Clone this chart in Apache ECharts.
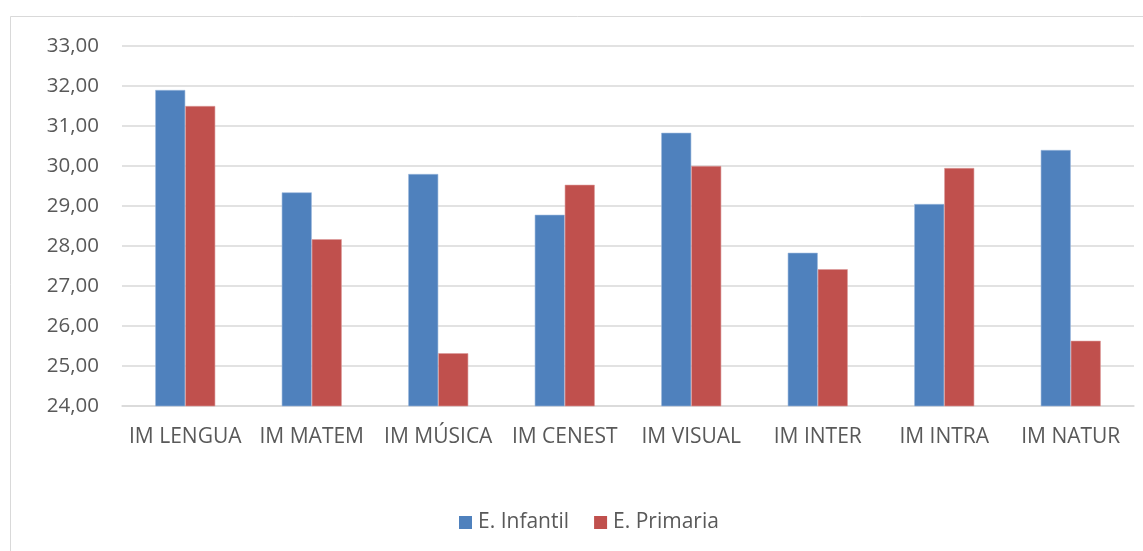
<!DOCTYPE html>
<html>
<head>
<meta charset="utf-8">
<script src="https://cdn.jsdelivr.net/npm/echarts@6/dist/echarts.min.js"></script>
<style>
html,body{margin:0;padding:0;background:#fff;}
#chart{width:1143px;height:551px;}
</style>
</head>
<body>
<div id="chart"></div>
<script>
const categories = ['IM LENGUA','IM MATEM','IM MÚSICA','IM CENEST','IM VISUAL','IM INTER','IM INTRA','IM NATUR'];
const infantil = [31.90, 29.34, 29.80, 28.78, 30.83, 27.83, 29.05, 30.40];
const primaria = [31.50, 28.17, 25.32, 29.53, 30.00, 27.42, 29.95, 25.63];
const seriesNames = ['E. Infantil', 'E. Primaria'];

const chart = echarts.init(document.getElementById('chart'));
const font = '"Open Sans", "Noto Sans", sans-serif';
chart.setOption({
  animation: false,
  backgroundColor: '#fff',
  graphic: [{
    type: 'rect', left: 8, top: 14,
    shape: {width: 1150, height: 560},
    style: {fill: 'none', stroke: '#d9d9d9', lineWidth: 1}
  }],
  grid: {left: 122, right: 9, top: 46, bottom: 145, containLabel: false},
  legend: {
    top: 507, left: 454,
    itemWidth: 13, itemHeight: 13, itemGap: 25, itemStyle: {borderWidth: 0},
    icon: 'rect',
    textStyle: {fontFamily: font, fontSize: 21, color: '#595959', padding: [0, 0, 0, 1]},
    data: seriesNames
  },
  xAxis: {
    type: 'category', data: categories,
    axisLine: {lineStyle: {color: '#d9d9d9', width: 1.5}},
    axisTick: {show: false},
    axisLabel: {fontFamily: font, fontSize: 21, color: '#595959', margin: 21, interval: 0}
  },
  yAxis: {
    type: 'value', min: 24, max: 33, interval: 1,
    axisLine: {show: false}, axisTick: {show: false},
    splitLine: {lineStyle: {color: '#d9d9d9', width: 1.5}},
    axisLabel: {fontFamily: font, fontSize: 20.5, color: '#595959', margin: 23,
      formatter: v => v.toFixed(2).replace('.', ',')}
  },
  series: [
    {name: seriesNames[0], type: 'bar', data: infantil, barWidth: 30, barGap: '0%',
     itemStyle: {color: '#4f81bd', borderColor: '#9bb7dc', borderWidth: 0.6}},
    {name: seriesNames[1], type: 'bar', data: primaria, barWidth: 30, barGap: '0%',
     itemStyle: {color: '#c0504d', borderColor: '#dc9b9a', borderWidth: 0.6}}
  ]
});
</script>
</body>
</html>
